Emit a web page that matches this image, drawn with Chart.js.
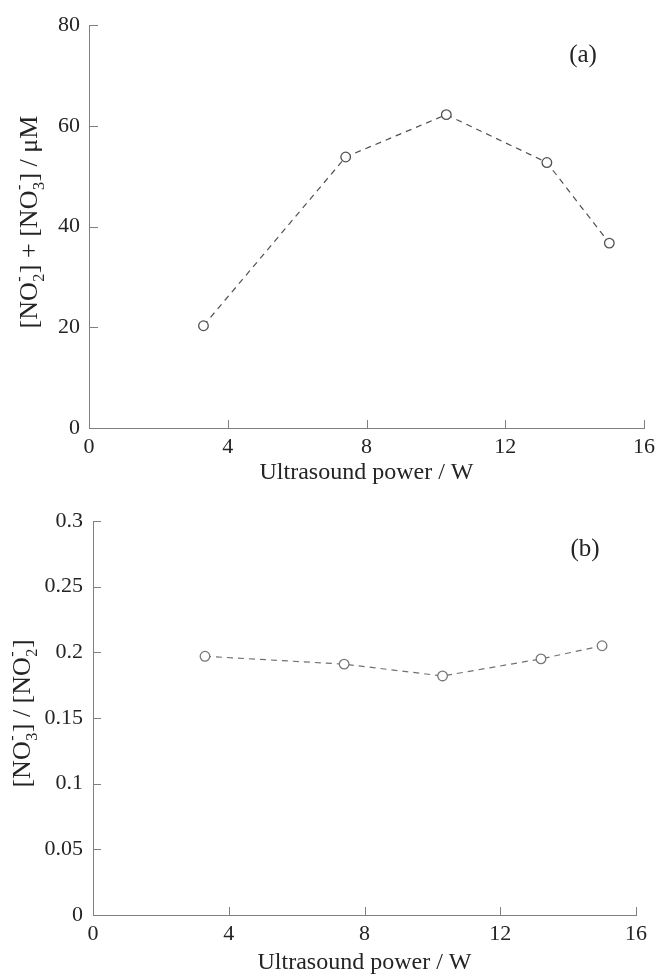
<!DOCTYPE html>
<html><head><meta charset="utf-8">
<script src="https://cdn.jsdelivr.net/npm/chart.js@4"></script>
<style>
html,body{margin:0;padding:0;background:#fff;width:657px;height:975px;overflow:hidden}
canvas{position:absolute;left:0}
#ca{top:0}
#cb{top:487px}
</style></head><body>
<canvas id="ca" width="657" height="487"></canvas>
<canvas id="cb" width="657" height="488"></canvas>
<script>
// ---- data ----
const power = [3.3, 7.4, 10.3, 13.2, 15.0];
const totalNOx = [20.3, 53.8, 62.2, 52.7, 36.7];
const ratioNO3NO2 = [0.197, 0.191, 0.182, 0.195, 0.205];
const xTicks = [0, 4, 8, 12, 16];
const yTicksA = [0, 20, 40, 60, 80];
const yTicksB = [0, 0.05, 0.1, 0.15, 0.2, 0.25, 0.3];
const yTickLabelsB = ['0', '0.05', '0.1', '0.15', '0.2', '0.25', '0.3'];
const xTitle = 'Ultrasound power / W';
const yTitleA = [{t:'[NO'}, {sub:'2', sup:'-'}, {t:'] + [NO'}, {sub:'3', sup:'-'}, {t:'] / μM'}];
const yTitleB = [{t:'[NO'}, {sub:'3', sup:'-'}, {t:'] / [NO'}, {sub:'2', sup:'-'}, {t:']'}];
const panelA = '(a)';
const panelB = '(b)';

const SERIF = '"Liberation Serif", "Times New Roman", serif';
const fnt = n => `${n}px ${SERIF}`;

const innerTicks = {
  id: 'innerTicks',
  beforeDatasetsDraw(chart, args, o) {
    const ctx = chart.ctx, xs = chart.scales.x, ys = chart.scales.y, a = chart.chartArea;
    ctx.save();
    ctx.strokeStyle = o.color; ctx.lineWidth = 1;
    ctx.beginPath();
    xs.ticks.forEach(t => {
      const px = Math.round(xs.getPixelForValue(t.value)) + 0.5;
      ctx.moveTo(px, a.bottom); ctx.lineTo(px, a.bottom - o.xLen);
    });
    ys.ticks.forEach(t => {
      const py = Math.round(ys.getPixelForValue(t.value)) + 0.5;
      ctx.moveTo(a.left, py); ctx.lineTo(a.left + o.yLen, py);
    });
    ctx.stroke();
    ctx.restore();
  }
};

const richTitle = {
  id: 'richTitle',
  afterDraw(chart, args, o) {
    const ctx = chart.ctx, a = chart.chartArea, fs = o.size, ss = fs * 0.62;
    ctx.save();
    ctx.fillStyle = o.color; ctx.textBaseline = 'alphabetic'; ctx.textAlign = 'left';
    const parts = o.segments.map(s => {
      if (s.t !== undefined) { ctx.font = fnt(fs); return {s, w: ctx.measureText(s.t).width}; }
      ctx.font = fnt(ss);
      return {s, w: Math.max(ctx.measureText(s.sub).width, ctx.measureText(s.sup).width) + 1};
    });
    const total = parts.reduce((p, c) => p + c.w, 0);
    const cy = (a.top + a.bottom) / 2 + o.dy;
    ctx.translate(o.x, cy);
    ctx.rotate(-Math.PI / 2);
    let x = -total / 2;
    parts.forEach(p => {
      if (p.s.t !== undefined) { ctx.font = fnt(fs); ctx.fillText(p.s.t, x, 0); }
      else {
        ctx.font = fnt(ss);
        ctx.fillText(p.s.sub, x + 0.5, fs * 0.28);
        ctx.fillText(p.s.sup, x + 0.5, -fs * 0.5);
      }
      x += p.w;
    });
    ctx.restore();
  }
};

const panelLabel = {
  id: 'panelLabel',
  afterDraw(chart, args, o) {
    const ctx = chart.ctx;
    ctx.save();
    ctx.fillStyle = o.color; ctx.font = fnt(o.size);
    ctx.textAlign = 'center'; ctx.textBaseline = 'middle';
    ctx.fillText(o.text, o.x, o.y);
    ctx.restore();
  }
};

function makeChart(id, cfg) {
  const ds = power.map((p, i) => ({x: p, y: cfg.values[i]}));
  return new Chart(document.getElementById(id), {
    type: 'line',
    data: {
      datasets: [{
        data: ds,
        borderColor: cfg.lineColor,
        borderWidth: 1.2,
        borderDash: [6, 5],
        pointRadius: 4.8,
        pointBorderWidth: 1.3,
        pointBorderColor: cfg.pointColor,
        pointBackgroundColor: '#ffffff',
        fill: false,
        tension: 0
      }]
    },
    options: {
      responsive: false,
      animation: false,
      events: [],
      layout: {padding: {left: 0, right: cfg.padRight, top: cfg.padTop, bottom: 0}},
      plugins: {
        legend: {display: false},
        tooltip: {enabled: false},
        innerTicks: {color: '#808080', xLen: cfg.xTickLen, yLen: cfg.yTickLen},
        richTitle: {segments: cfg.yTitle, size: 26, color: '#242424', x: cfg.yTitleX, dy: -4.5},
        panelLabel: {text: cfg.panel, size: 25, color: '#242424', x: cfg.panelX, y: cfg.panelY}
      },
      scales: {
        x: {
          type: 'linear', min: 0, max: 16,
          afterBuildTicks: s => { s.ticks = xTicks.map(v => ({value: v})); },
          afterFit: s => { s.height = cfg.xAxisH; s.paddingLeft = 0; s.paddingRight = 0; },
          grid: {display: false, drawTicks: false, tickLength: 0},
          border: {display: true, color: '#808080', width: 1},
          ticks: {color: '#242424', font: {family: SERIF, size: 22}, padding: 6, maxRotation: 0,
                  callback: (v) => String(v)},
          title: {display: true, text: xTitle, color: '#242424', font: {family: SERIF, size: 24},
                  padding: {top: 0, bottom: cfg.xTitlePad}}
        },
        y: {
          type: 'linear', min: cfg.yTicks[0], max: cfg.yTicks[cfg.yTicks.length - 1],
          afterBuildTicks: s => { s.ticks = cfg.yTicks.map(v => ({value: v})); },
          afterFit: s => { s.width = cfg.yAxisW; s.paddingTop = 0; s.paddingBottom = 0; },
          grid: {display: false, drawTicks: false, tickLength: 0},
          border: {display: true, color: '#808080', width: 1},
          ticks: {color: '#242424', font: {family: SERIF, size: 22}, padding: cfg.yTickPad,
                  callback: (v, i) => cfg.yLabels[i]}
        }
      }
    },
    plugins: [innerTicks, richTitle, panelLabel]
  });
}

makeChart('ca', {
  values: totalNOx, yTicks: yTicksA, yLabels: yTicksA.map(String), yTitle: yTitleA, panel: panelA,
  lineColor: '#505050', pointColor: '#505050',
  padRight: 13, padTop: 25, xAxisH: 59, yAxisW: 89, yTickPad: 9, xTickLen: 8, yTickLen: 9,
  yTitleX: 37, panelX: 583, panelY: 55, xTitlePad: 0
});
makeChart('cb', {
  values: ratioNO3NO2, yTicks: yTicksB, yLabels: yTickLabelsB, yTitle: yTitleB, panel: panelB,
  lineColor: '#707070', pointColor: '#777777',
  padRight: 21, padTop: 34, xAxisH: 60, yAxisW: 93, yTickPad: 10, xTickLen: 8, yTickLen: 8,
  yTitleX: 30, panelX: 585, panelY: 62, xTitlePad: -2
});
</script>
</body></html>
